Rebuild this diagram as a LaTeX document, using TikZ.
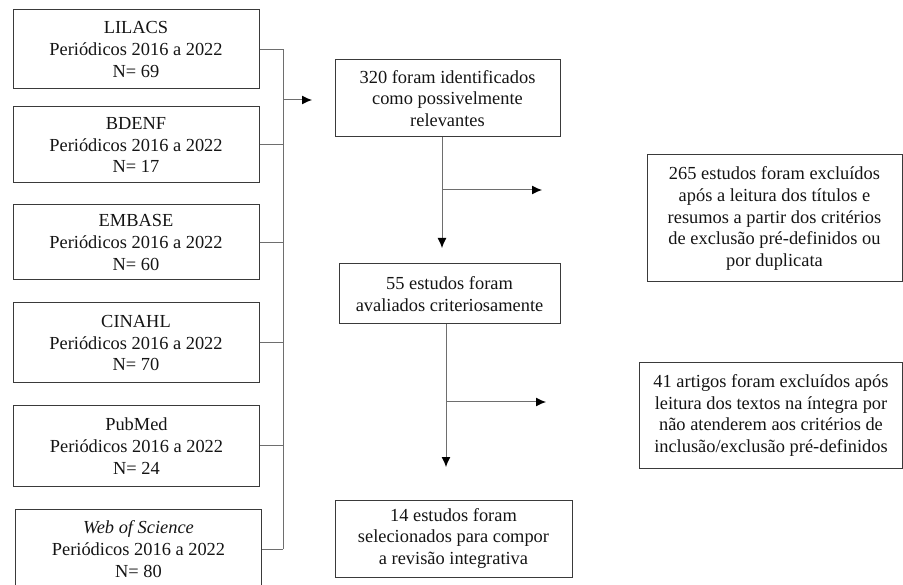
\documentclass[tikz,border=0pt]{standalone}
\usepackage{fontspec}
\setmainfont{Liberation Serif}
\usetikzlibrary{arrows.meta}
\definecolor{borda}{HTML}{3A3A3A}
\definecolor{linha}{HTML}{6E6E6E}
\definecolor{texto}{HTML}{141414}
\tikzset{
    caixa/.style={draw=borda, line width=1pt, rectangle, align=center, text=texto,
        font=\fontsize{18.4}{21.8}\selectfont, inner sep=2pt},
    fonte/.style={caixa, minimum width=246, minimum height=78},
    seta/.style={draw=linha, line width=1pt, -{Latex[length=10pt,width=9pt,color=black]}},
    ligacao/.style={draw=linha, line width=1pt}
}
\begin{document}
\begin{tikzpicture}[x=1pt, y=-1pt]
    \useasboundingbox (0,0) rectangle (903,585);
    %   Bases de dados consultadas
    \node[fonte, minimum height=79] (lilacs) at (136,49.5) {LILACS\\Periódicos 2016 a 2022\\N= 69};
    \node[fonte, minimum height=76] (bdenf) at (136,145) {BDENF\\Periódicos 2016 a 2022\\N= 17};
    \node[fonte, minimum height=75] (embase) at (136,242.5) {EMBASE\\Periódicos 2016 a 2022\\N= 60};
    \node[fonte, minimum height=80] (cinahl) at (136,343) {CINAHL\\Periódicos 2016 a 2022\\N= 70};
    \node[fonte, minimum height=80] (pubmed) at (136.5,446) {PubMed\\Periódicos 2016 a 2022\\N= 24};
    \node[fonte, minimum height=80] (wos) at (138.5,549) {\textit{Web of Science}\\Periódicos 2016 a 2022\\N= 80};
    %   Etapas da seleção
    \node[caixa, minimum width=225, minimum height=77] (identificados) at (447.5,98.5) {320 foram identificados\\como possivelmente\\relevantes};
    \node[caixa, minimum width=221, minimum height=60] (avaliados) at (449.5,294) {55 estudos foram\\avaliados criteriosamente};
    \node[caixa, minimum width=237, minimum height=77] (selecionados) at (453.5,538.5) {14 estudos foram\\selecionados para compor\\a revisão integrativa};
    %   Exclusões
    \node[caixa, minimum width=255, minimum height=127] (excl1) at (774.5,218.5) {265 estudos foram excluídos\\após a leitura dos títulos e\\resumos a partir dos critérios\\de exclusão pré-definidos ou\\por duplicata};
    \node[caixa, minimum width=263, minimum height=105] (excl2) at (771,415.5) {41 artigos foram excluídos após\\leitura dos textos na íntegra por\\não atenderem aos critérios de\\inclusão/exclusão pré-definidos};
    %   Chave que reúne as bases
    \coordinate (chave) at (283,100);
    \foreach \base in {lilacs,bdenf,embase,cinahl,pubmed,wos}
        \draw[ligacao] (\base.east) -- (\base.east -| chave);
    \draw[ligacao] (lilacs.east -| chave) -- (wos.east -| chave);
    \coordinate (entrada) at (312,100);
    \draw[seta] (chave) -- (entrada);
    %   Fluxo vertical com desvios
    \coordinate (desce1) at (442,248);
    \coordinate (desvio1) at (542,190);
    \draw[seta] (identificados.south -| desce1) -- (desce1);
    \draw[seta] (desce1 |- desvio1) -- (desvio1);
    \coordinate (desce2) at (446,467);
    \coordinate (desvio2) at (546,402);
    \draw[seta] (avaliados.south -| desce2) -- (desce2);
    \draw[seta] (desce2 |- desvio2) -- (desvio2);
\end{tikzpicture}
\end{document}
